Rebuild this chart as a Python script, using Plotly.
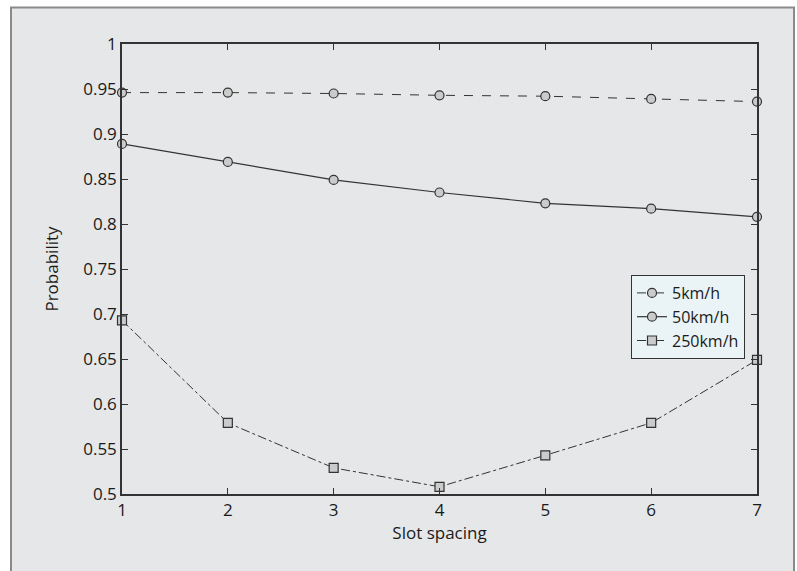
import plotly.graph_objects as go

slot_spacing = [1, 2, 3, 4, 5, 6, 7]
p_5kmh = [0.946, 0.946, 0.945, 0.943, 0.942, 0.939, 0.936]
p_50kmh = [0.889, 0.869, 0.849, 0.835, 0.823, 0.817, 0.808]
p_250kmh = [0.693, 0.579, 0.529, 0.508, 0.543, 0.579, 0.649]
y_ticks = [0.5, 0.55, 0.6, 0.65, 0.7, 0.75, 0.8, 0.85, 0.9, 0.95, 1.0]
y_tick_labels = ["0.5", "0.55", "0.6", "0.65", "0.7", "0.75", "0.8", "0.85", "0.9", "0.95", "1"]

FONT = "Open Sans"
marker_fill = "#cbcbcb"
edge = "#333333"

fig = go.Figure()
fig.add_trace(go.Scatter(
    x=slot_spacing, y=p_5kmh, name="5km/h", mode="lines+markers",
    line=dict(color=edge, width=1, dash="dash"),
    marker=dict(symbol="circle", size=9, color=marker_fill, line=dict(color=edge, width=1.2)),
    cliponaxis=False))
fig.add_trace(go.Scatter(
    x=slot_spacing, y=p_50kmh, name="50km/h", mode="lines+markers",
    line=dict(color=edge, width=1.2),
    marker=dict(symbol="circle", size=9, color=marker_fill, line=dict(color=edge, width=1.2)),
    cliponaxis=False))
fig.add_trace(go.Scatter(
    x=slot_spacing, y=p_250kmh, name="250km/h", mode="lines+markers",
    line=dict(color=edge, width=1, dash="dashdot"),
    marker=dict(symbol="square", size=9, color=marker_fill, line=dict(color=edge, width=1.2)),
    cliponaxis=False))

L, R, T, B = 122, 40, 44, 77
W, H = 797, 571
pw, ph = W - L - R, H - T - B

def px(x):
    return (x - L) / pw

def py(y):
    return (H - B - y) / ph

fig.add_shape(type="rect", xref="paper", yref="paper",
              x0=px(11), x1=px(794), y0=py(580), y1=py(7.5),
              line=dict(color="#8a8a8a", width=2), fillcolor="#e6e7e8", layer="below")

fig.update_layout(
    width=W, height=H,
    margin=dict(l=L, r=R, t=T, b=B, autoexpand=False),
    paper_bgcolor="white",
    plot_bgcolor="#dcebee",
    font=dict(family=FONT, size=17, color="#1a1a1a"),
    showlegend=True,
    legend=dict(x=px(631), y=py(275), xanchor="left", yanchor="top",
                bgcolor="#eaf4f6", bordercolor="#333333", borderwidth=1,
                font=dict(family=FONT, size=16, color="#1a1a1a"),
                tracegroupgap=0, itemwidth=30),
    xaxis=dict(range=[1, 7], tickvals=slot_spacing, ticks="inside", ticklen=6,
               tickcolor="#333333", showline=True, linecolor="#333333", linewidth=1.5,
               mirror="ticks", showgrid=False, zeroline=False, automargin=False,
               title=dict(text="Slot spacing", font=dict(size=17), standoff=2),
               tickfont=dict(size=17)),
    yaxis=dict(range=[0.5, 1.0], tickvals=y_ticks, ticktext=y_tick_labels,
               ticks="inside", ticklen=6, tickcolor="#333333", showline=True,
               linecolor="#333333", linewidth=1.5, mirror="ticks", showgrid=False,
               zeroline=False, automargin=False,
               title=dict(text="Probability", font=dict(size=17), standoff=20),
               tickfont=dict(size=17)),
)

fig.write_html("out.html", config={"displayModeBar": False},
               post_script="document.body.style.margin='0';document.body.style.overflow='hidden';")
